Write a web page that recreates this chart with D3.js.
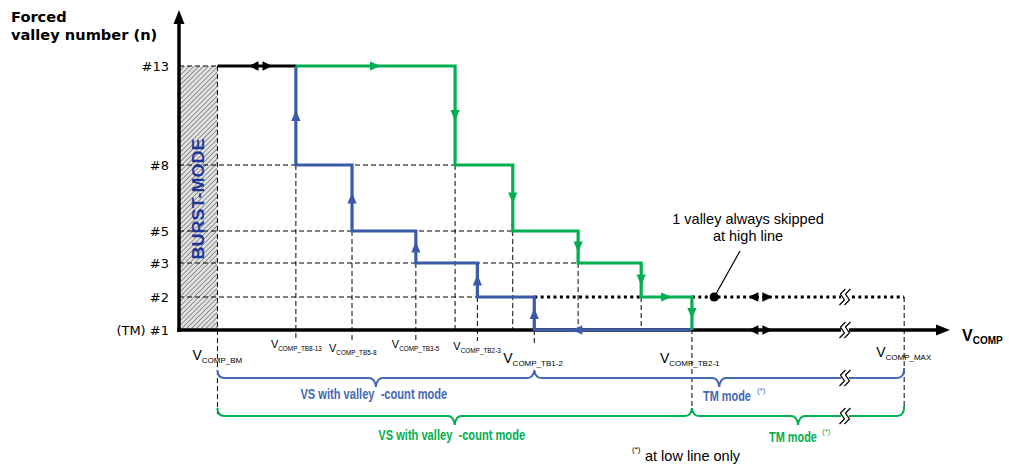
<!DOCTYPE html>
<html>
<head>
<meta charset="utf-8">
<script src="https://cdn.jsdelivr.net/npm/d3@7/dist/d3.min.js"></script>
<style>
  html, body { margin: 0; padding: 0; background: #fff; }
  svg { display: block; }
  text.keep-spaces { white-space: pre; }
</style>
</head>
<body>
<svg id="chart" width="1009" height="467"></svg>
<script>
// Forced valley number (n) versus V_COMP, arbitrary V_COMP units 0..100
const levels = [1, 2, 3, 5, 8, 13];
const levelLabels = ["(TM) #1", "#2", "#3", "#5", "#8", "#13"];

// V_COMP thresholds where the valley number rises (blue, V_COMP decreasing)
const blueThresholds = [46.2, 38.8, 30.8, 22.5, 15.2];   // 1→2, 2→3, 3→5, 5→8, 8→13
// V_COMP thresholds where the valley number falls (green, V_COMP increasing)
const greenThresholds = [35.9, 43.4, 51.9, 60.1, 66.7];  // 13→8, 8→5, 5→3, 3→2, 2→1

const vBurst = 5.0;
const vMax = 94.3;
const vAxisEnd = 100;
const vBreak = 86.6;

const tickNames = ["COMP_BM", "COMP_TB8-13", "COMP_TB5-8", "COMP_TB3-5", "COMP_TB2-3", "COMP_TB1-2", "COMP_TB2-1", "COMP_MAX"];
const tickValues = [vBurst, 15.2, 22.5, 30.8, 38.8, 46.2, 66.7, vMax];

const blue = "#3A5BAA";
const green = "#00B050";
const braceBlue = "#4468B4";
const navy = "#1E3696";

const svg = d3.select("#chart");
const x = d3.scaleLinear().domain([0, vAxisEnd]).range([179, 948]);
const y = d3.scaleLinear().domain(levels).range([330, 297, 263, 231, 165, 66]);
const y0 = y(1);

// ---------- defs: hatch ----------
const defs = svg.append("defs");
const pat = defs.append("pattern").attr("id", "hatch")
  .attr("patternUnits", "userSpaceOnUse").attr("width", 3.4).attr("height", 3.4)
  .attr("patternTransform", "rotate(45)");
pat.append("rect").attr("width", 3.4).attr("height", 3.4).attr("fill", "#e2e2e2");
pat.append("line").attr("x1", 0).attr("y1", 0).attr("x2", 0).attr("y2", 3.4)
  .attr("stroke", "#6e6e6e").attr("stroke-width", 1.4);

// burst-mode region
svg.append("rect")
  .attr("x", x(0)).attr("y", y(13))
  .attr("width", x(vBurst) - x(0)).attr("height", y0 - y(13))
  .attr("fill", "url(#hatch)");

// ---------- dashed guide lines ----------
const dash = "5,3";
const g = svg.append("g").attr("stroke", "#000").attr("stroke-width", 1).attr("stroke-dasharray", dash).attr("fill", "none");
// horizontal guides from the axis to the threshold ending each level
const hGuides = [[13, vBurst], [8, greenThresholds[0]], [5, greenThresholds[1]], [3, greenThresholds[2]], [2, blueThresholds[0]]];
hGuides.forEach(([lv, v]) => {
  g.append("line").attr("x1", x(0)).attr("x2", x(v)).attr("y1", y(lv)).attr("y2", y(lv));
});
// vertical guides: [v, top level, bottom pixel extension]
const vGuides = [
  [vBurst, 13, 414],
  [blueThresholds[4], 8, 341],
  [blueThresholds[3], 5, 341],
  [blueThresholds[2], 3, 341],
  [blueThresholds[1], 2, 341],
  [blueThresholds[0], 1, 345],
  [greenThresholds[0], 8, y0],
  [greenThresholds[1], 5, y0],
  [greenThresholds[2], 3, y0],
  [greenThresholds[3], 2, y0],
  [greenThresholds[4], 2, 410],
  [vMax, 2, 408]
];
vGuides.forEach(([v, lv, yb]) => {
  g.append("line").attr("x1", x(v)).attr("x2", x(v)).attr("y1", y(lv)).attr("y2", yb);
});

// ---------- dotted "1 valley skipped" line ----------
const dotted = svg.append("g").attr("stroke", "#000").attr("stroke-width", 3.2)
  .attr("stroke-dasharray", "3,3.4").attr("fill", "none");
dotted.append("line").attr("x1", x(blueThresholds[0])).attr("x2", x(greenThresholds[3]))
  .attr("y1", y(2)).attr("y2", y(2));
dotted.append("line").attr("x1", x(greenThresholds[4])).attr("x2", x(vMax))
  .attr("y1", y(2)).attr("y2", y(2));

// ---------- axes ----------
svg.append("line").attr("x1", x(0)).attr("x2", x(0)).attr("y1", y0 + 2).attr("y2", 22)
  .attr("stroke", "#000").attr("stroke-width", 3.5);
svg.append("path").attr("d", `M${x(0) - 5.5},24 L${x(0)},10 L${x(0) + 5.5},24 Z`).attr("fill", "#000");
svg.append("line").attr("x1", x(0) - 1.7).attr("x2", x(vAxisEnd) - 10).attr("y1", y0).attr("y2", y0)
  .attr("stroke", "#000").attr("stroke-width", 3.5);
svg.append("path").attr("d", `M${x(vAxisEnd) - 12},${y0 - 5.5} L${x(vAxisEnd) + 2},${y0} L${x(vAxisEnd) - 12},${y0 + 5.5} Z`).attr("fill", "#000");

// black segment between burst mode and the first green level
svg.append("line").attr("x1", x(vBurst)).attr("x2", x(blueThresholds[4]))
  .attr("y1", y(13)).attr("y2", y(13)).attr("stroke", "#000").attr("stroke-width", 3);

// ---------- step paths ----------
const line = d3.line().x(d => x(d[0])).y(d => y(d[1]));

const bluePts = [[greenThresholds[4], 1]];
for (let i = 0; i < blueThresholds.length; i++) {
  bluePts.push([blueThresholds[i], levels[i]]);
  bluePts.push([blueThresholds[i], levels[i + 1]]);
}
const greenPts = [[blueThresholds[4], 13]];
const down = levels.slice().reverse();
for (let i = 0; i < greenThresholds.length; i++) {
  greenPts.push([greenThresholds[i], down[i]]);
  greenPts.push([greenThresholds[i], down[i + 1]]);
}

svg.append("path").attr("d", line(bluePts)).attr("fill", "none")
  .attr("stroke", blue).attr("stroke-width", 3.2).attr("stroke-linejoin", "miter");
svg.append("path").attr("d", line(greenPts)).attr("fill", "none")
  .attr("stroke", green).attr("stroke-width", 3.2).attr("stroke-linejoin", "miter");

// ---------- arrowheads ----------
function tri(cx, cy, dir, color, len = 11, half = 4.6) {
  // dir: "up" | "down" | "left" | "right", (cx,cy) is the centre of the head
  const h = len / 2;
  let d;
  if (dir === "up") d = `M${cx},${cy - h} L${cx + half},${cy + h} L${cx - half},${cy + h} Z`;
  if (dir === "down") d = `M${cx},${cy + h} L${cx + half},${cy - h} L${cx - half},${cy - h} Z`;
  if (dir === "left") d = `M${cx - h},${cy} L${cx + h},${cy - half} L${cx + h},${cy + half} Z`;
  if (dir === "right") d = `M${cx + h},${cy} L${cx - h},${cy - half} L${cx - h},${cy + half} Z`;
  svg.append("path").attr("d", d).attr("fill", color);
}
// blue: up arrows on each rising edge, left arrow along the bottom
for (let i = 0; i < blueThresholds.length; i++) {
  tri(x(blueThresholds[i]), (y(levels[i]) + y(levels[i + 1])) / 2, "up", blue);
}
tri(x(blueThresholds[0] + (greenThresholds[4] - blueThresholds[0]) * 0.27), y0, "left", blue);
// green: down arrows on each falling edge, right arrows on top and #2 runs
for (let i = 0; i < greenThresholds.length; i++) {
  tri(x(greenThresholds[i]), (y(down[i]) + y(down[i + 1])) / 2, "down", green);
}
tri(x((blueThresholds[4] + greenThresholds[0]) / 2), y(13), "right", green);
tri(x((greenThresholds[3] + greenThresholds[4]) / 2), y(2), "right", green);

// double-headed markers ◀▶
function doubleArrow(cx, cy) {
  tri(cx - 7, cy, "left", "#000", 10, 4.8);
  tri(cx + 7, cy, "right", "#000", 10, 4.8);
}
doubleArrow(x(10.6), y(13));
doubleArrow(x(75.6), y0);
doubleArrow(x(75.6), y(2));

// axis break symbol
function breakMark(cx, cy, color, sw) {
  svg.append("rect").attr("x", cx - 4).attr("y", cy - 3).attr("width", 8).attr("height", 6).attr("fill", "#fff");
  [-2.5, 2.5].forEach(o => {
    svg.append("path")
      .attr("d", `M${cx + o + 3},${cy - 8} L${cx + o - 2},${cy - 3} L${cx + o + 2},${cy + 3} L${cx + o - 3},${cy + 8}`)
      .attr("fill", "none").attr("stroke", color).attr("stroke-width", sw);
  });
}
breakMark(x(vBreak), y0, "#000", 1.2);
breakMark(x(vBreak), y(2), "#000", 1.2);

// ---------- annotation ----------
const annoDot = [x(69.6), y(2)];
svg.append("line").attr("x1", annoDot[0]).attr("y1", annoDot[1]).attr("x2", 740).attr("y2", 251)
  .attr("stroke", "#000").attr("stroke-width", 1.2);
svg.append("circle").attr("cx", annoDot[0]).attr("cy", annoDot[1]).attr("r", 4.6).attr("fill", "#000");
const anno = svg.append("text").attr("font-family", "Liberation Sans, Arial, sans-serif")
  .attr("font-size", 14.5).attr("text-anchor", "middle").attr("fill", "#000");
anno.append("tspan").attr("x", 748).attr("y", 224).text("1 valley always skipped");
anno.append("tspan").attr("x", 748).attr("y", 241).text("at high line");

// ---------- y axis labels ----------
const yAxis = d3.axisLeft(y).tickValues(levels).tickSize(0).tickPadding(10)
  .tickFormat((d, i) => levelLabels[i]);
const ya = svg.append("g").attr("transform", `translate(${x(0)},0)`).call(yAxis);
ya.select(".domain").remove();
ya.selectAll("text").attr("font-family", "DejaVu Sans, Verdana, sans-serif")
  .attr("font-size", 13).attr("fill", "#000").attr("dy", "0.35em");

const title = svg.append("text").attr("font-family", "DejaVu Sans, Verdana, sans-serif")
  .attr("font-weight", "bold").attr("font-size", 14.6).attr("fill", "#000");
title.append("tspan").attr("x", 11).attr("y", 22).text("Forced");
title.append("tspan").attr("x", 11).attr("y", 40).text("valley number (n)");

// BURST-MODE label
svg.append("text")
  .attr("transform", `translate(${(x(0) + x(vBurst)) / 2 + 6},${(y(13) + y0) / 2 + 1}) rotate(-90)`)
  .attr("text-anchor", "middle").attr("font-family", "Liberation Sans, Arial, sans-serif")
  .attr("font-weight", "bold").attr("font-size", 16).attr("fill", navy)
  .attr("textLength", 121).attr("lengthAdjust", "spacingAndGlyphs")
  .text("BURST-MODE");

// ---------- x axis title ----------
const xt = svg.append("text").attr("x", 962).attr("y", 341)
  .attr("font-family", "Liberation Sans, Arial, sans-serif").attr("font-weight", "bold").attr("fill", "#000");
xt.append("tspan").attr("font-size", 16).text("V");
xt.append("tspan").attr("font-size", 10).attr("dy", 3).text("COMP");

// ---------- x tick labels ----------
const tickPlace = {
  "COMP_BM": { dx: -25, y: 360, big: true },
  "COMP_TB8-13": { dx: -25, y: 348, big: false },
  "COMP_TB5-8": { dx: -23, y: 352, big: false },
  "COMP_TB3-5": { dx: -24, y: 348, big: false },
  "COMP_TB2-3": { dx: -24, y: 350, big: false },
  "COMP_TB1-2": { dx: -31, y: 363, big: true },
  "COMP_TB2-1": { dx: -32, y: 363, big: true },
  "COMP_MAX": { dx: -28, y: 357, big: true }
};
tickNames.forEach((name, i) => {
  const p = tickPlace[name];
  const t = svg.append("text").attr("x", x(tickValues[i]) + p.dx).attr("y", p.y)
    .attr("font-family", "Liberation Sans, Arial, sans-serif").attr("fill", "#000");
  t.append("tspan").attr("font-size", p.big ? 14 : 11).text("V");
  t.append("tspan").attr("font-size", p.big ? 8 : 6.4).attr("dy", p.big ? 3 : 2.5).text(name);
});

// ---------- braces ----------
function brace(x0, x1, yb, points, joins, color) {
  let d = `M${x0},${yb - 8} Q${x0},${yb} ${x0 + 7},${yb}`;
  const marks = points.map(v => ({ v, dir: 1 })).concat(joins.map(v => ({ v, dir: -1 })))
    .sort((a, b) => a.v - b.v);
  marks.forEach(m => {
    const px = m.v;
    const tip = m.dir > 0 ? yb + 9 : yb - 8;
    d += ` L${px - 7},${yb} Q${px - 1},${yb} ${px},${tip} Q${px + 1},${yb} ${px + 7},${yb}`;
  });
  d += ` L${x1 - 7},${yb} Q${x1},${yb} ${x1},${yb - 10}`;
  svg.append("path").attr("d", d).attr("fill", "none").attr("stroke", color).attr("stroke-width", 2);
  breakMark(x(vBreak), yb, "#000", 1.2);
}
brace(x(vBurst), x(vMax), 378,
  [(x(vBurst) + x(blueThresholds[0])) / 2, (x(blueThresholds[0]) + x(vMax)) / 2],
  [x(blueThresholds[0])], braceBlue);
brace(x(vBurst), x(vMax), 416,
  [(x(vBurst) + x(greenThresholds[4])) / 2, (x(greenThresholds[4]) + x(vMax)) / 2],
  [x(greenThresholds[4])], green);

// condensed bold labels: horizontally scaled to the wanted width
const braceFont = "Liberation Sans, Arial, sans-serif";
function modeLabel(txt, xPos, yb, len, color, anchor) {
  const grp = svg.append("g");
  const t = grp.append("text").attr("class", "keep-spaces").attr("x", 0).attr("y", 0)
    .attr("text-anchor", anchor)
    .attr("font-family", braceFont).attr("font-weight", "bold").attr("font-size", 14.5)
    .attr("fill", color).text(txt);
  const natural = t.node().getComputedTextLength() || len;
  grp.attr("transform", `translate(${xPos},${yb}) scale(${len / natural},1)`);
}
function star(xs, ys, color) {
  svg.append("text").attr("x", xs).attr("y", ys).attr("font-family", braceFont)
    .attr("font-size", 8).attr("fill", color).text("(*)");
}
modeLabel("VS with valley  -count mode", (x(vBurst) + x(blueThresholds[0])) / 2 - 2, 399, 147, braceBlue, "middle");
modeLabel("TM mode", 703, 401, 48, braceBlue, "start");
star(757, 393, braceBlue);
modeLabel("VS with valley  -count mode", (x(vBurst) + x(greenThresholds[4])) / 2 - 3, 440, 147, green, "middle");
modeLabel("TM mode", 769, 442, 48, green, "start");
star(822, 434, green);

star(632, 452, "#000");
svg.append("text").attr("x", 645).attr("y", 461).attr("font-family", braceFont)
  .attr("font-size", 14.5).attr("fill", "#000").text("at low line only");
</script>
</body>
</html>
